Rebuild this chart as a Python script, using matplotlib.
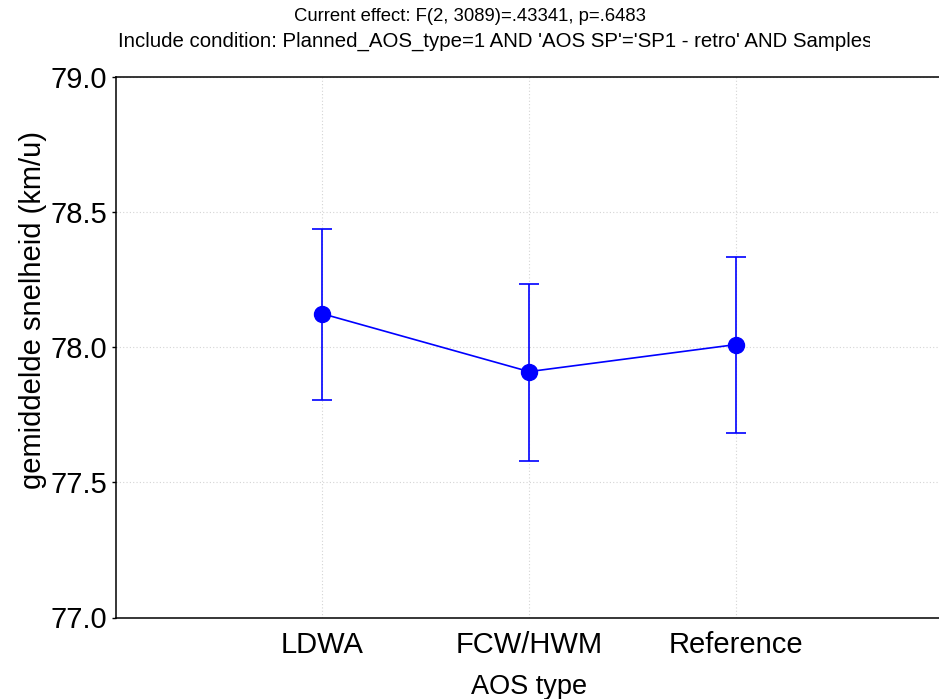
import matplotlib
matplotlib.use("Agg")
import matplotlib.pyplot as plt
from matplotlib.patches import Rectangle

categories = ["LDWA", "FCW/HWM", "Reference"]
means = [78.123, 77.909, 78.009]
upper = [78.438, 78.232, 78.333]
lower = [77.805, 77.580, 77.683]
yticks = [77.0, 77.5, 78.0, 78.5, 79.0]

plt.rcParams['font.family'] = ['Liberation Sans', 'DejaVu Sans']

W, H = 939, 699
fig = plt.figure(figsize=(W / 100, H / 100), dpi=100)
left_px, right_px, top_px, bot_px = 115.5, 942.7, 76.5, 617.5
ax = fig.add_axes([left_px / W, 1 - bot_px / H, (right_px - left_px) / W, (bot_px - top_px) / H])

x = list(range(1, len(categories) + 1))
yerr = [[m - l for m, l in zip(means, lower)], [u - m for m, u in zip(means, upper)]]
ax.errorbar(x, means, yerr=yerr, color='#0000ff', marker='o', markersize=11.5,
            linewidth=1.2, elinewidth=1.2, capsize=7.5, capthick=1.2, zorder=3)

ax.set_xlim(0, 4)
ax.set_ylim(77.0, 79.0)
ax.set_xticks(x)
ax.set_xticklabels(categories, fontsize=21)
ax.set_yticks(yticks)
ax.set_yticklabels([f"{v:.1f}" for v in yticks], fontsize=21)
ax.tick_params(axis='x', length=0, pad=10)
ax.tick_params(axis='y', length=3, width=1, direction='out', pad=3)
ax.grid(True, linestyle=(0, (1, 2)), color='#d4d4d4', linewidth=0.8)
ax.set_axisbelow(True)
for s in ax.spines.values():
    s.set_linewidth(1.1)
    s.set_color('black')
ax.spines['right'].set_visible(False)

ax.set_xlabel("AOS type", fontsize=19.5)
ax.xaxis.set_label_coords(0.5, -(694 - bot_px) / (bot_px - top_px), transform=ax.transAxes)
ax.xaxis.label.set_va('baseline')
ax.set_ylabel("gemiddelde snelheid (km/u)", fontsize=21)
ax.yaxis.set_label_coords(-(left_px - 33) / (right_px - left_px), (bot_px - 310) / (bot_px - top_px))
ax.yaxis.label.set_va('center')

fig.text(0.5, 1 - 21 / H, "Current effect: F(2, 3089)=.43341, p=.6483",
         ha='center', va='baseline', fontsize=13.3)
fig.text(118 / W, 1 - 47 / H,
         "Include condition: Planned_AOS_type=1 AND 'AOS SP'='SP1 - retro' AND Samples",
         ha='left', va='baseline', fontsize=14.7)
fig.patches.append(Rectangle((870 / W, 1 - 62 / H), (W - 870) / W + 0.01, 40 / H,
                             transform=fig.transFigure, facecolor='white',
                             edgecolor='none', zorder=10))

fig.savefig("out.png", dpi=100)
